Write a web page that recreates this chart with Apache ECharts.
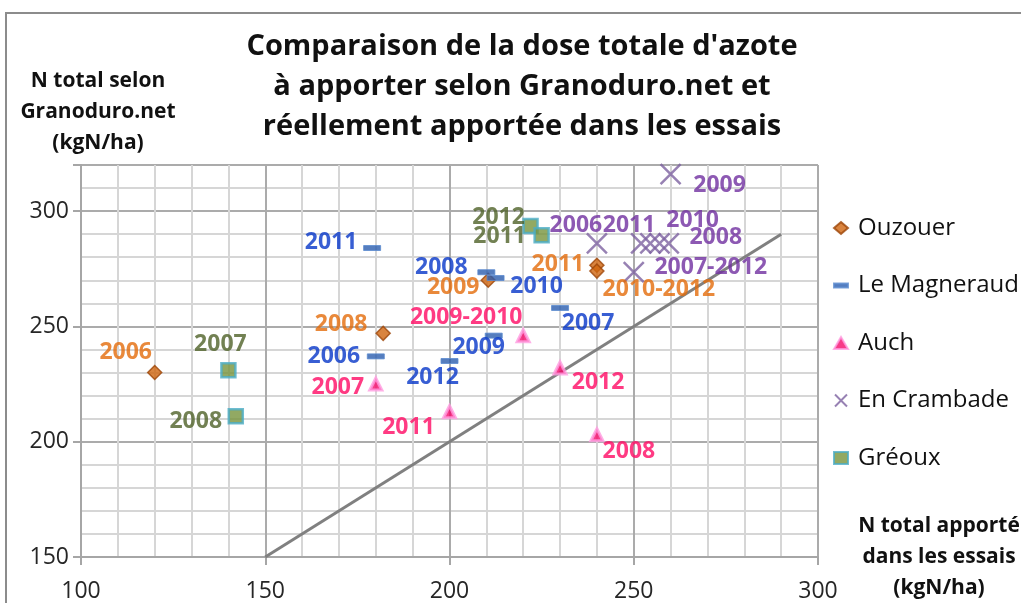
<!DOCTYPE html>
<html><head><meta charset="utf-8">
<script src="https://cdn.jsdelivr.net/npm/echarts@6/dist/echarts.min.js"></script>
<style>html,body{margin:0;padding:0;background:#fff}#c{width:1021px;height:603px}</style>
</head><body><div id="c"></div>
<script>
// ---- data (x = N apporté, y = N Granoduro.net) ----
const ouzouerX = [120, 182, 210.5, 240, 240];
const ouzouerY = [230, 247, 270, 276.5, 274];
const ouzouerLabels = ['2006', '2008', '2009', '2011', '2010-2012'];

const magneraudX = [179, 180, 210, 212.5, 230, 212, 200];
const magneraudY = [284, 237, 273.5, 271, 258, 246, 235];
const magneraudLabels = ['2011', '2006', '2008', '2010', '2007', '2009', '2012'];

const auchX = [180, 200, 220, 230, 240];
const auchY = [225, 213, 246, 232, 203];
const auchLabels = ['2007', '2011', '2009-2010', '2012', '2008'];

const crambadeX = [260, 240, 252, 254.5, 257, 259.5, 250];
const crambadeY = [316, 286, 286, 286, 286, 286, 273.5];
const crambadeLabels = ['2009', '2006', '2011', '', '2010', '2008', '2007-2012'];

const greouxX = [140, 142, 222, 225];
const greouxY = [231, 211, 293.5, 289.5];
const greouxLabels = ['2007', '2008', '2012', '2011'];

const refLineX = [150, 290];
const refLineY = [150, 290];

const xTicks = [100, 150, 200, 250, 300];
const yTicks = [150, 200, 250, 300];

// ---- label placement (pixel offsets from marker) ----
const ouzouerOff = [[-29,-20],[-42,-9],[-35,7],[-39,-1],[62,18]];
const magneraudOff = [[-41,-6],[-42,0],[-45,-5],[41,8],[28,15],[-15,12],[-17,16]];
const auchOff = [[-38,3],[-41,16],[-57,-18],[38,15],[32,17]];
const crambadeOff = [[49,11],[-21,-18],[-12,-18],[0,0],[33,-23],[47,-6],[77,-5]];
const greouxOff = [[-8,-26],[-40,5],[-32,-9],[-42,1]];

const FONT = 'Open Sans';

function build(xs, ys, labels, offs, color) {
  return xs.map((x, i) => ({
    value: [x, ys[i]],
    label: {
      show: labels[i] !== '',
      formatter: labels[i],
      position: 'inside',
      offset: offs[i],
      color: color,
      fontFamily: FONT,
      fontWeight: 'bold',
      fontSize: 23,
      align: 'center',
      verticalAlign: 'middle'
    }
  }));
}

const chart = echarts.init(document.getElementById('c'), null, {renderer: 'canvas'});
chart.setOption({
  backgroundColor: '#ffffff',
  animation: false,
  title: {
    text: "Comparaison de la dose totale d'azote\nà apporter selon Granoduro.net et\nréellement apportée dans les essais",
    left: 522,
    textAlign: 'center',
    top: 27,
    padding: 0,
    textStyle: {fontFamily: FONT, fontWeight: 'bold', fontSize: 29, lineHeight: 40, color: '#111'}
  },
  graphic: [{
    type: 'polyline',
    shape: {points: [[6, 603], [6, 13], [1021, 13]]},
    style: {stroke: '#8c8c8c', lineWidth: 2, fill: null},
    silent: true
  }],
  legend: {
    orient: 'vertical',
    left: 833,
    top: 216,
    padding: 0,
    itemWidth: 14,
    itemHeight: 12,
    itemGap: 33.5,
    textStyle: {fontFamily: FONT, fontSize: 24, color: '#111', lineHeight: 24, padding: [0, 0, 0, 5]},
    data: ['Ouzouer', 'Le Magneraud', 'Auch', 'En Crambade', 'Gréoux']
  },
  grid: {left: 81, right: 203, top: 165, bottom: 46, outerBoundsMode: 'none', containLabel: false},
  xAxis: {
    type: 'value', min: xTicks[0], max: xTicks[xTicks.length - 1], interval: 50,
    name: 'N total apporté\ndans les essais\n(kgN/ha)',
    nameLocation: 'end', nameGap: 121,
    nameTextStyle: {fontFamily: FONT, fontWeight: 'bold', fontSize: 21, lineHeight: 31, color: '#111', align: 'center', verticalAlign: 'middle', padding: [6, 0, 0, 0]},
    axisLine: {show: true, lineStyle: {color: '#a6a6a6', width: 2}},
    axisTick: {show: true, length: 8, lineStyle: {color: '#a6a6a6', width: 2}},
    axisLabel: {fontFamily: FONT, fontSize: 23, color: '#262626', margin: 23},
    splitLine: {show: true, lineStyle: {color: '#ababab', width: 2}},
    minorTick: {show: false, splitNumber: 5},
    minorSplitLine: {show: true, lineStyle: {color: '#d6d6d6', width: 2}}
  },
  yAxis: {
    type: 'value', min: yTicks[0], max: 320, interval: 50,
    name: 'N total selon\nGranoduro.net\n(kgN/ha)',
    nameLocation: 'end', nameGap: 6,
    nameTextStyle: {fontFamily: FONT, fontWeight: 'bold', fontSize: 21, lineHeight: 31, color: '#111', align: 'center', padding: [0, 0, 0, 34]},
    axisLine: {show: true, lineStyle: {color: '#a6a6a6', width: 2}},
    axisTick: {show: true, length: 8, lineStyle: {color: '#a6a6a6', width: 2}},
    axisLabel: {fontFamily: FONT, fontSize: 23, color: '#262626', margin: 12,
      formatter: v => (yTicks.indexOf(v) >= 0 ? String(v) : '')},
    splitLine: {show: true, lineStyle: {color: '#ababab', width: 2}},
    minorTick: {show: false, splitNumber: 5},
    minorSplitLine: {show: true, lineStyle: {color: '#d6d6d6', width: 2}}
  },
  series: [
    {
      name: 'ref', type: 'line', data: refLineX.map((x, i) => [x, refLineY[i]]),
      showSymbol: false, symbol: 'none', lineStyle: {color: '#808080', width: 3}, z: 1, silent: true
    },
    {
      name: 'Ouzouer', type: 'scatter', symbol: 'diamond', symbolSize: 14,
      itemStyle: {color: '#D0650F', borderColor: '#9C4508', borderWidth: 1.5},
      data: build(ouzouerX, ouzouerY, ouzouerLabels, ouzouerOff, '#E46C0A'), z: 3
    },
    {
      name: 'Le Magneraud', type: 'scatter', symbol: 'path://M0,0H17V5H0Z', symbolKeepAspect: true, symbolSize: 17,
      itemStyle: {color: '#2B5DAE', borderColor: '#5B8BD0', borderWidth: 1},
      data: build(magneraudX, magneraudY, magneraudLabels, magneraudOff, '#0636C8'), z: 3
    },
    {
      name: 'Auch', type: 'scatter', symbol: 'triangle', symbolSize: 12,
      itemStyle: {color: '#F50A6A', borderColor: '#FF9BE0', borderWidth: 3},
      data: build(auchX, auchY, auchLabels, auchOff, '#FF0A64'), z: 3
    },
    {
      name: 'En Crambade', type: 'scatter', symbol: 'path://M0,0L10,10M0,10L10,0', symbolSize: 20,
      itemStyle: {color: 'rgba(0,0,0,0)', borderColor: '#7D62A0', borderWidth: 2.5},
      data: build(crambadeX, crambadeY, crambadeLabels, crambadeOff, '#7030A0'), z: 3
    },
    {
      name: 'Gréoux', type: 'scatter', symbol: 'rect', symbolSize: 14,
      itemStyle: {color: '#77933C', borderColor: '#4BACC6', borderWidth: 2.5},
      data: build(greouxX, greouxY, greouxLabels, greouxOff, '#4F6228'), z: 3
    }
  ]
});
</script>
</body></html>
